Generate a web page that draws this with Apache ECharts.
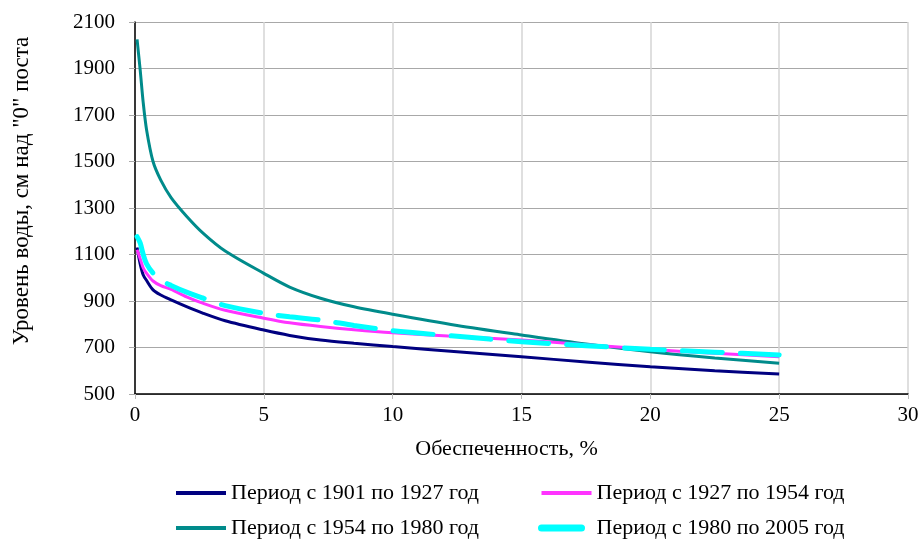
<!DOCTYPE html>
<html>
<head>
<meta charset="utf-8">
<script src="https://cdn.jsdelivr.net/npm/echarts@6/dist/echarts.min.js"></script>
<style>
  html, body { margin: 0; padding: 0; background: #fff; }
  #chart { width: 924px; height: 547px; }
</style>
</head>
<body>
<div id="chart"></div>
<script>
// обеспеченность, %
var xList = [0.08, 0.2, 0.32, 0.45, 0.7, 1.0, 1.4, 2, 2.65, 3.5, 5, 6, 7.2, 8.5, 10, 12.5, 15, 17.5, 20, 22.5, 25];

// уровни воды по периодам
var p1901 = [1130, 1060, 1012, 988, 948, 926, 905, 876, 847, 815, 775, 752, 732, 718, 704, 682, 660, 638, 617, 600, 586];
var p1927 = [1120, 1082, 1042, 1019, 986, 966, 950, 918, 890, 860, 826, 806, 790, 776, 763, 747, 732, 712, 692, 675, 660];
var p1954 = [2025, 1895, 1752, 1636, 1500, 1420, 1345, 1265, 1191, 1115, 1019, 960, 912, 875, 843, 795, 754, 715, 682, 655, 632];
var p1980 = [1177, 1150, 1100, 1060, 1020, 990, 967, 938, 912, 880, 847, 832, 818, 795, 772, 748, 725, 708, 692, 680, 668];

var names = ['Период с 1901 по 1927 год', 'Период с 1927 по 1954 год',
             'Период с 1954 по 1980 год', 'Период с 1980 по 2005 год'];

var yTicks = [500, 2100, 200];
var xTicks = [0, 30, 5];

function pairs(vals) {
  var res = [];
  for (var i = 0; i < xList.length; i++) res.push([xList[i], vals[i]]);
  return res;
}

var chart = echarts.init(document.getElementById('chart'));
var font = 'Liberation Serif';
var fs = 21;

var option = {
  animation: false,
  textStyle: { fontFamily: font },
  grid: { left: 135, right: 16, top: 22, bottom: 153 },
  legend: [{
    orient: 'vertical',
    left: 174, top: 482, padding: 0,
    itemWidth: 50, itemHeight: 14, itemGap: 13,
    itemStyle: { opacity: 0 },
    textStyle: { fontFamily: font, fontSize: 22, color: '#000' },
    data: [
      { name: names[0], lineStyle: { width: 4 } },
      { name: names[2], lineStyle: { width: 4 } }
    ]
  }, {
    orient: 'vertical',
    left: 538, top: 482, padding: 0,
    itemWidth: 50, itemHeight: 14, itemGap: 13,
    itemStyle: { opacity: 0 },
    textStyle: { fontFamily: font, fontSize: 22, color: '#000' },
    data: [
      { name: names[1], lineStyle: { width: 4 } },
      { name: names[3], lineStyle: { width: 7 } }
    ]
  }],
  xAxis: {
    type: 'value',
    min: xTicks[0], max: xTicks[1], interval: xTicks[2],
    name: 'Обеспеченность, %',
    nameLocation: 'middle', nameGap: 44,
    nameTextStyle: { fontFamily: font, fontSize: 22, color: '#000', padding: [0, 30, 0, 0] },
    axisLine: { lineStyle: { color: '#000', width: 1.5 } },
    axisTick: { show: true, length: 5, lineStyle: { color: '#bbb' } },
    axisLabel: { fontFamily: font, fontSize: fs, color: '#000', margin: 11, formatter: function (v) { return String(v); } },
    splitLine: { show: true, lineStyle: { color: '#d4d4d4', width: 1.5 } }
  },
  yAxis: {
    type: 'value',
    min: yTicks[0], max: yTicks[1], interval: yTicks[2],
    name: 'Уровень воды, см над "0" поста',
    nameLocation: 'middle', nameGap: 102, nameRotate: 90,
    nameTextStyle: { fontFamily: font, fontSize: 23, color: '#000', padding: [0, 0, 0, 34] },
    axisLine: { show: true, lineStyle: { color: '#000', width: 1.5 } },
    axisTick: { show: true, length: 6, lineStyle: { color: '#aaa' } },
    axisLabel: { fontFamily: font, fontSize: fs, color: '#000', margin: 20, formatter: function (v) { return String(v); } },
    splitLine: { show: true, lineStyle: { color: '#a8a8a8', width: 1 } }
  },
  series: [{
    name: names[0], type: 'line', data: pairs(p1901), smooth: 0.3, symbol: 'none',
    color: '#000080', lineStyle: { width: 3, color: '#000080' }, z: 3
  }, {
    name: names[1], type: 'line', data: pairs(p1927), smooth: 0.3, symbol: 'none',
    color: '#ff33ff', lineStyle: { width: 3, color: '#ff33ff' }, z: 4
  }, {
    name: names[2], type: 'line', data: pairs(p1954), smooth: 0.3, symbol: 'none',
    color: '#008b8b', lineStyle: { width: 3, color: '#008b8b' }, z: 2
  }, {
    name: names[3], type: 'line', data: pairs(p1980), smooth: 0.3, symbol: 'none',
    color: '#00ffff', lineStyle: { width: 5, color: '#00ffff', type: [40, 18], cap: 'round' }, z: 5
  }]
};

chart.setOption(option);
</script>
</body>
</html>
